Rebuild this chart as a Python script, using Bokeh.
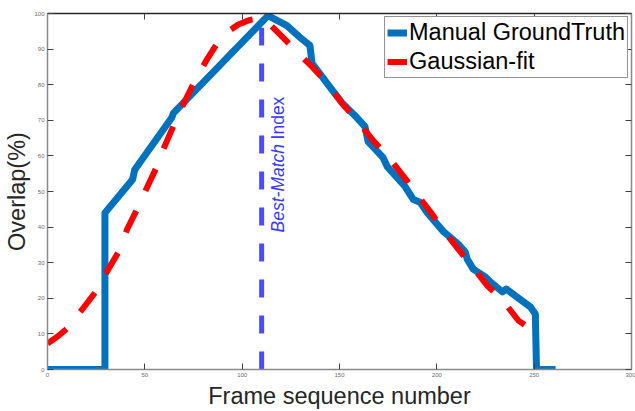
import numpy as np
from bokeh.plotting import figure
from bokeh.models import Range1d, LinearAxis, FixedTicker, Label, Legend, LegendItem
from bokeh.embed import file_html
from bokeh.resources import INLINE

# Manually annotated overlap per frame
frame_gt = [0, 29.5, 29.5, 43.7, 44.8, 63.8, 64.8, 113.3, 123.0, 129.7, 134.8, 135.9,
            145.1, 151.3, 159.0, 163.1, 164.7, 172.4, 174.5, 183.7, 187.9, 191.5, 195.0,
            203.3, 211.0, 214.6, 215.6, 218.7, 224.9, 227.5, 233.7, 235.7, 248.0, 250.6,
            251.2, 261.0]
overlap_gt = [0, 0, 44.0, 53.4, 56.1, 70.7, 72.1, 99.4, 96.6, 93.3, 91.0, 86.0,
              79.3, 74.9, 70.7, 68.2, 64.0, 59.5, 57.0, 51.4, 47.8, 46.9, 44.1,
              38.8, 35.2, 33.0, 31.0, 28.2, 26.0, 24.6, 21.8, 22.6, 17.6, 15.6,
              0, 0]

# Fitted curve
frame_fit = [0, 5, 10, 18, 25, 30, 37, 41, 46, 51, 56, 60, 65, 70, 75, 82, 87, 92, 98,
             104, 110, 115, 120, 125, 130, 136, 144, 152, 159, 167, 175, 183, 189, 197,
             203, 211, 218, 226, 234, 242, 252]
overlap_fit = [7.3, 9.2, 11.5, 17.0, 22.0, 27.0, 33.5, 39.5, 45.0, 51.0, 56.8, 62.5, 68.8,
               74.8, 80.3, 87.2, 91.5, 94.6, 96.9, 98.2, 98.6, 96.5, 93.8, 91.0, 88.2, 85.0,
               80.2, 74.3, 70.1, 64.5, 59.8, 54.2, 49.7, 44.1, 39.4, 33.8, 29.1, 23.5, 19.3,
               13.7, 10.1]

best_match_frame = 110
x_ticks = [0, 50, 100, 150, 200, 250, 300]
y_ticks = [0, 10, 20, 30, 40, 50, 60, 70, 80, 90, 100]

FONT = "Liberation Sans"
BLUE = "#0072BD"
RED = "#FF0000"
MARK = "#4b4bff"

p = figure(width=635, height=411, output_backend="svg", toolbar_location=None,
           x_range=Range1d(0, 300), y_range=Range1d(0, 100),
           min_border_left=47, min_border_right=4, min_border_top=13, min_border_bottom=40)
p.grid.visible = False
p.outline_line_color = None
p.background_fill_color = "white"
p.border_fill_color = "white"

bottom_axis = p.below[0]
left_axis = p.left[0]
bottom_axis.axis_label = "Frame sequence number"
left_axis.axis_label = "Overlap(%)"

top_axis = LinearAxis()
right_axis = LinearAxis()
p.add_layout(top_axis, "above")
p.add_layout(right_axis, "right")


def style_axis(ax, ticks, line_color):
    ax.ticker = FixedTicker(ticks=ticks)
    ax.minor_tick_line_color = None
    ax.major_tick_in = 6
    ax.major_tick_out = 0
    ax.major_tick_line_color = "#404040"
    ax.major_tick_line_width = 1
    ax.axis_line_color = line_color
    ax.axis_line_width = 1.5
    ax.major_label_text_font = FONT
    ax.major_label_text_font_size = "6px"
    ax.major_label_text_color = "#6a6a6a"
    ax.major_label_standoff = 3
    ax.axis_label_text_font = FONT
    ax.axis_label_text_font_size = "23.5px"
    ax.axis_label_text_font_style = "normal"
    ax.axis_label_text_color = "#262626"


style_axis(bottom_axis, x_ticks, "#8a8a8a")
style_axis(left_axis, y_ticks, "#8a8a8a")
style_axis(top_axis, x_ticks, "#262626")
style_axis(right_axis, y_ticks, "#8a8a8a")
bottom_axis.axis_label_standoff = 3
left_axis.axis_label_standoff = 1
# box sides carry tick marks only
for ax in (top_axis, right_axis):
    ax.major_label_text_color = None
    ax.major_label_standoff = 0

# Best-match marker
p.segment(x0=[best_match_frame], y0=[0], x1=[best_match_frame], y1=[96],
          line_color=MARK, line_width=5, line_dash="18 18")

gt = p.line(frame_gt, overlap_gt, line_color=BLUE, line_width=7, line_join="round")
fit = p.line(frame_fit, overlap_fit, line_color=RED, line_width=6, line_dash="24 22")

label_kw = dict(x=best_match_frame, y=38.5, x_offset=16, angle=np.pi / 2,
                text_font=FONT, text_font_size="17.5px", text_color="#3a3aff",
                text_baseline="alphabetic", text_align="left")
p.add_layout(Label(text="Best-Match", text_font_style="italic", **label_kw))
p.add_layout(Label(text="Index", y_offset=93, **label_kw))

legend = Legend(items=[LegendItem(label="Manual GroundTruth", renderers=[gt]),
                       LegendItem(label="Gaussian-fit", renderers=[fit])],
                location="top_right")
legend.margin = 3
legend.padding = 2
legend.spacing = 2
legend.glyph_width = 20
legend.glyph_height = 27
legend.label_height = 27
legend.label_standoff = 2
legend.label_text_font = FONT
legend.label_text_font_size = "23.5px"
legend.label_text_color = "black"
legend.border_line_color = "#262626"
legend.border_line_width = 1
legend.background_fill_color = "white"
legend.background_fill_alpha = 1
p.add_layout(legend)

open("out.html", "w").write(file_html(p, INLINE))
